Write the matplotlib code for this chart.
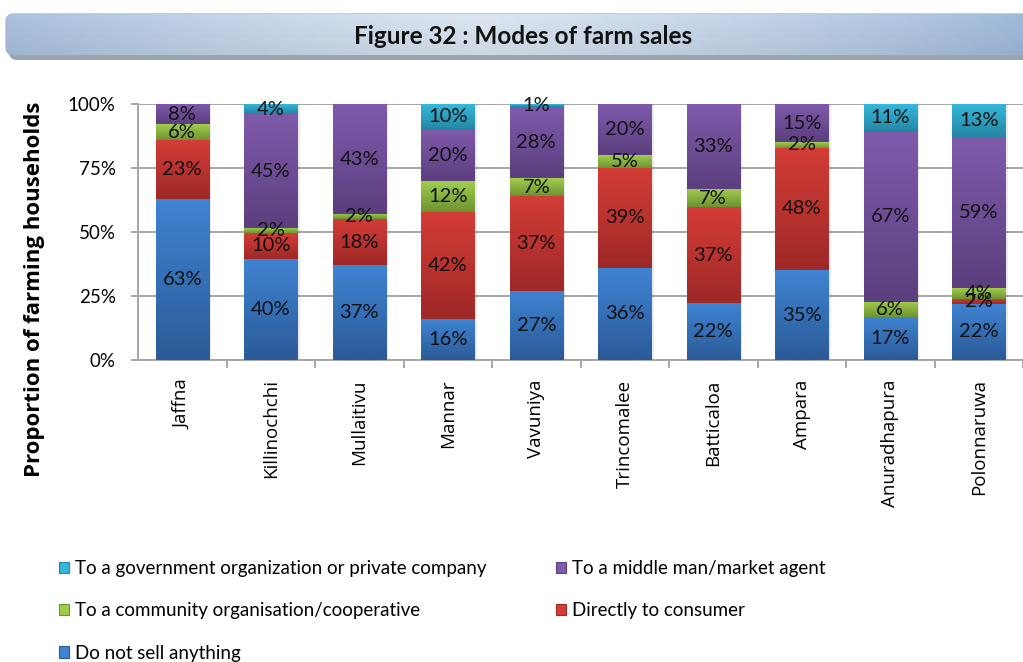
import numpy as np
import matplotlib.pyplot as plt
from matplotlib.patches import FancyBboxPatch, Rectangle
from matplotlib.colors import to_rgb

# Data (percent of farming households), stacked bottom -> top
districts = ['Jaffna', 'Killinochchi', 'Mullaitivu', 'Mannar', 'Vavuniya',
             'Trincomalee', 'Batticaloa', 'Ampara', 'Anuradhapura', 'Polonnaruwa']
no_sell = [63, 40, 37, 16, 27, 36, 22, 35, 17, 22]
direct = [23, 10, 18, 42, 37, 39, 37, 48, 0, 2]
community = [6, 2, 2, 12, 7, 5, 7, 2, 6, 4]
middleman = [8, 45, 43, 20, 28, 20, 33, 15, 67, 59]
government = [0, 4, 0, 10, 1, 0, 0, 0, 11, 13]

series_names = ['Do not sell anything', 'Directly to consumer',
                'To a community organisation/cooperative',
                'To a middle man/market agent',
                'To a government organization or private company']
series_vals = [no_sell, direct, community, middleman, government]
# (top colour, bottom colour) for the Excel-like gradient
grad = [('#3f83d2', '#2b5b98'),
        ('#d33c37', '#9f2927'),
        ('#a0cc4e', '#6e9431'),
        ('#7f5aab', '#5c3f7f'),
        ('#36b8da', '#2486a3')]

narrow = ['Lato', 'DejaVu Sans']

W, H = 1023, 662
fig = plt.figure(figsize=(W / 100, H / 100), dpi=100)

# ---- title banner ----
axt = fig.add_axes([0, 0, 1, 1])
axt.set_xlim(0, W)
axt.set_ylim(H, 0)
axt.axis('off')
shadow = FancyBboxPatch((9, 19), W + 40, 41, boxstyle='round,pad=0,rounding_size=8',
                        facecolor='#9aa3ae', edgecolor='none')
axt.add_patch(shadow)
banner = FancyBboxPatch((6, 14), W + 40, 41, boxstyle='round,pad=0,rounding_size=8',
                        facecolor='none', edgecolor='#8fa9cc', linewidth=0.8)
axt.add_patch(banner)
gx = np.linspace(0, 1, 256)
c_edge = np.array(to_rgb('#94b0d6'))
c_mid = np.array(to_rgb('#dce6f2'))
wgt = np.clip(1 - np.abs(gx - 0.45) / 0.55, 0, 1) ** 0.7
row = c_edge[None, :] * (1 - wgt[:, None]) + c_mid[None, :] * wgt[:, None]
img = np.repeat(row[None, :, :], 8, axis=0)
vy = np.linspace(0, 1, 8)
img = img * (1 - 0.06 * vy[:, None, None])
img = np.clip(img, 0, 1)
im = axt.imshow(img, extent=(6, W + 46, 55, 14), aspect='auto', zorder=1)
im.set_clip_path(banner)
axt.text(523, 36, 'Figure 32 : Modes of farm sales', ha='center', va='center',
         fontsize=17.5, fontweight='bold', family=narrow, color='#111111', zorder=3)

# ---- main axes ----
x0, x1 = 138, W
y_top, y_bot = 104, 360
ax = fig.add_axes([x0 / W, 1 - y_bot / H, (x1 - x0) / W, (y_bot - y_top) / H])

x = np.arange(len(districts))
bottom = np.zeros(len(districts))
totals = np.sum(series_vals, axis=0)
for vals, (ctop, cbot) in zip(series_vals, grad):
    h = np.array(vals, dtype=float) / totals * 100
    bars = ax.bar(x, h, 0.6, bottom=bottom, color=cbot, zorder=2, linewidth=0)
    g = np.linspace(0, 1, 32)[:, None]
    col = (np.array(to_rgb(ctop))[None, :] * (1 - g) + np.array(to_rgb(cbot))[None, :] * g)
    for b in bars:
        if b.get_height() <= 0:
            continue
        bx, by, bw, bh = b.get_x(), b.get_y(), b.get_width(), b.get_height()
        gi = ax.imshow(col[:, None, :], extent=(bx, bx + bw, by, by + bh),
                       aspect='auto', zorder=3, origin='upper')
        gi.set_clip_path(b)
    for xi, v, bt, hh in zip(x, vals, bottom, h):
        if v > 0:
            ax.text(xi, bt + hh / 2, f'{v}%', ha='center', va='center',
                    fontsize=14.5, family=narrow, color='#111111', zorder=5)
    bottom = bottom + h

# soft shadow to the right of each bar
for xi in x:
    ax.add_patch(Rectangle((xi + 0.3, 0), 0.03, 100, facecolor='#000000', alpha=0.08,
                           zorder=1.5, linewidth=0))

ax.set_xlim(-0.5, -0.5 + (x1 - x0) / 89.56)
ax.set_ylim(0, 100)
ax.set_yticks([0, 25, 50, 75, 100])
ax.set_yticklabels(['0%', '25%', '50%', '75%', '100%'], family=narrow, fontsize=13.5)
ax.yaxis.grid(True, color='#a6a6a6', linewidth=1.4, zorder=0)
ax.set_axisbelow(True)
ax.tick_params(axis='y', length=5, width=1.4, color='#a6a6a6', pad=11)

ax.set_xticks(x)
ax.set_xticklabels(districts, rotation=90, fontsize=13.5, family=['Open Sans', 'DejaVu Sans'])
ax.set_xticks(np.arange(len(districts)) + 0.5, minor=True)
ax.tick_params(axis='x', which='major', length=0, pad=14)
ax.tick_params(axis='x', which='minor', length=6, width=1.4, color='#a6a6a6')

for s in ['top', 'right']:
    ax.spines[s].set_visible(False)
for s in ['left', 'bottom']:
    ax.spines[s].set_color('#a6a6a6')
    ax.spines[s].set_linewidth(1.4)

fig.text(35 / W, 1 - 289 / H, 'Proportion of farming households', rotation=90,
         ha='center', va='center', fontsize=16, fontweight='bold',
         family=['Open Sans', 'DejaVu Sans'])

# ---- legend ----
order = [4, 2, 0, 3, 1]
handles = [Rectangle((0, 0), 1, 1, facecolor=grad[i][0], edgecolor=grad[i][1], linewidth=0.8)
           for i in order]
labels = [series_names[i] for i in order]
fig.legend(handles, labels, loc='upper left', bbox_to_anchor=(42 / W, 1 - 543 / H),
           ncol=2, frameon=False, prop={'family': narrow, 'size': 13.5},
           handlelength=0.55, handleheight=0.55, handletextpad=0.3,
           labelspacing=1.35, columnspacing=3.7)

fig.savefig('out.png', dpi=100)
